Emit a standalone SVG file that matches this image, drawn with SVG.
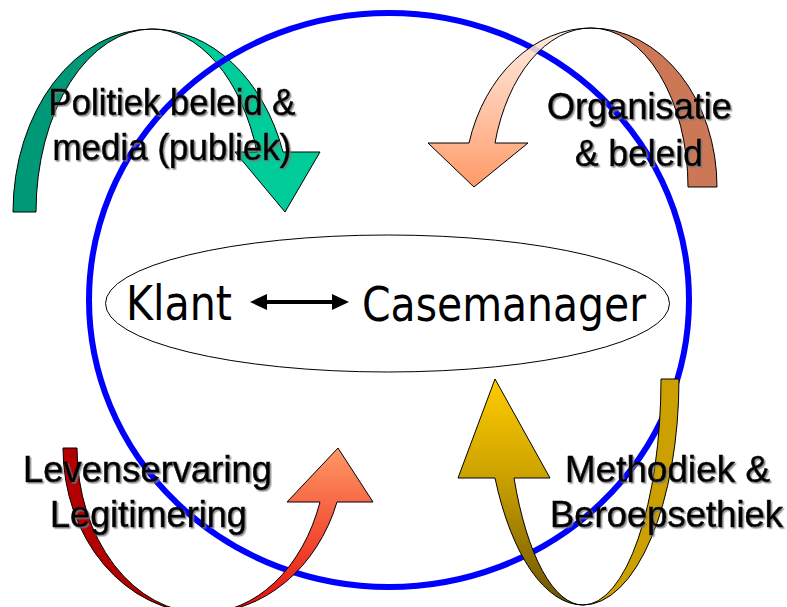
<svg xmlns="http://www.w3.org/2000/svg" width="787" height="607" viewBox="0 0 787 607">
  <defs>
    <style>
      .lbl { font-family: "Liberation Sans", Arial, sans-serif; font-size: 37px; fill: #000; stroke: #000; stroke-width: 0.6; text-anchor: middle; filter: url(#shadow); }
      .big { font-family: "DejaVu Sans Condensed", "DejaVu Sans", sans-serif; font-size: 48px; fill: #000; }
      .edge { stroke: #000; stroke-width: 1; stroke-linejoin: miter; }
    </style>
    <filter id="shadow" x="-5%" y="-20%" width="110%" height="140%">
      <feDropShadow dx="1.5" dy="1.5" stdDeviation="0.6" flood-color="#777777" flood-opacity="0.8"/>
    </filter>
    <linearGradient id="gPeach" gradientUnits="userSpaceOnUse" x1="0" y1="28" x2="0" y2="187">
      <stop offset="0" stop-color="#FFE8DC" stop-opacity="0.85"/>
      <stop offset="1" stop-color="#FF9966"/>
    </linearGradient>
    <linearGradient id="gRed" gradientUnits="userSpaceOnUse" x1="0" y1="448" x2="0" y2="607">
      <stop offset="0" stop-color="#FF9966"/>
      <stop offset="1" stop-color="#E8100C"/>
    </linearGradient>
    <linearGradient id="gGold" gradientUnits="userSpaceOnUse" x1="0" y1="379" x2="0" y2="605">
      <stop offset="0" stop-color="#FFCC00"/>
      <stop offset="0.45" stop-color="#C9A000"/>
      <stop offset="1" stop-color="#6B5200"/>
    </linearGradient>
  </defs>

  <!-- Politiek arrow (behind circle) -->
  <g id="arrow-politiek">
    <path class="edge" fill="#009977" d="M 13,212 A 139,183 0 0 1 152,29 A 116,183 0 0 0 36,212 Z"/>
    <path class="edge" fill="#00CC99" d="M 152,29 A 139,183 0 0 1 283,152 L 320,152 L 285,212 L 235,152 L 257,152 A 111,183 0 0 0 152,29 Z"/>
  </g>

  <!-- Blue circle -->
  <g id="circle">
    <ellipse cx="389" cy="300" rx="300" ry="287" fill="none" stroke="#0000FF" stroke-width="6"/>
  </g>

  <g id="arrow-organisatie">
    <path class="edge" fill="#CC7755" d="M 717,187 A 126,159 0 0 0 591,28 A 97,159 0 0 1 688,187 Z"/>
    <path class="edge" fill="url(#gPeach)" d="M 591,28 A 127,159 0 0 0 469,143 L 428,143 L 474,187 L 528,143 L 495,143 A 100,159 0 0 1 591,28 Z"/>
  </g>

  <g id="arrow-levenservaring">
    <path class="edge" fill="#B30000" d="M 63,448 A 140,165 0 0 0 203,613 A 126,165 0 0 1 77,448 Z"/>
    <path class="edge" fill="url(#gRed)" d="M 203,613 A 142,165 0 0 0 337,502 L 373,502 L 338,448 L 287,502 L 320,502 A 124,165 0 0 1 203,613 Z"/>
  </g>

  <g id="arrow-methodiek">
    <path class="edge" fill="#CCA000" d="M 679,379 A 96,226 0 0 1 583,605 A 78,226 0 0 0 661,379 Z"/>
    <path class="edge" fill="url(#gGold)" d="M 583,605 A 98,226 0 0 1 495,478 L 458,478 L 495,379 L 550,478 L 514,478 A 77,226 0 0 0 583,605 Z"/>
  </g>

  <!-- Center ellipse -->
  <g id="center">
    <ellipse cx="387.5" cy="303.5" rx="282" ry="68.5" fill="#FFFFFF" stroke="#000" stroke-width="1"/>
    <text class="big" x="126" y="320" textLength="106" lengthAdjust="spacingAndGlyphs">Klant</text>
    <text class="big" x="362" y="321" textLength="284" lengthAdjust="spacingAndGlyphs">Casemanager</text>
  </g>

  <g id="connectors">
    <line x1="262" y1="302" x2="337" y2="302" stroke="#000" stroke-width="4"/>
    <polygon points="250,302 267,294 267,310" fill="#000"/>
    <polygon points="349,302 332,294 332,310" fill="#000"/>
  </g>

  <g id="label-politiek">
    <text class="lbl" x="172" y="115" textLength="247" lengthAdjust="spacingAndGlyphs">Politiek beleid &amp;</text>
    <text class="lbl" x="172" y="160" textLength="239" lengthAdjust="spacingAndGlyphs">media (publiek)</text>
  </g>
  <g id="label-organisatie">
    <text class="lbl" x="639.5" y="119" textLength="185" lengthAdjust="spacingAndGlyphs">Organisatie</text>
    <text class="lbl" x="639" y="166" textLength="128" lengthAdjust="spacingAndGlyphs">&amp; beleid</text>
  </g>
  <g id="label-levenservaring">
    <text class="lbl" x="147.5" y="482" textLength="249" lengthAdjust="spacingAndGlyphs">Levenservaring</text>
    <text class="lbl" x="148.5" y="527" textLength="197" lengthAdjust="spacingAndGlyphs">Legitimering</text>
  </g>
  <g id="label-methodiek">
    <text class="lbl" x="667.5" y="482" textLength="205" lengthAdjust="spacingAndGlyphs">Methodiek &amp;</text>
    <text class="lbl" x="666.5" y="527" textLength="233" lengthAdjust="spacingAndGlyphs">Beroepsethiek</text>
  </g>
</svg>
